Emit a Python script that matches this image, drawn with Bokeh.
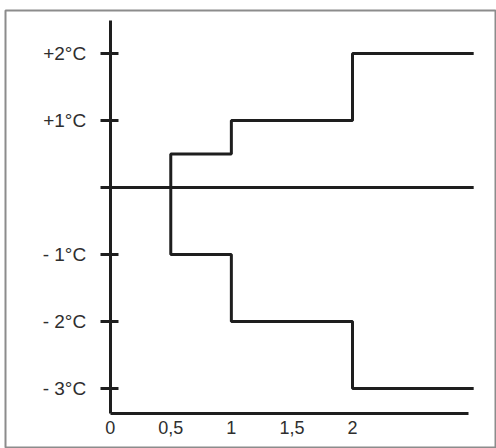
from bokeh.plotting import figure
from bokeh.models import FixedTicker, Range1d
from bokeh.embed import file_html
from bokeh.resources import INLINE

# Data
x_ticks = [0, 0.5, 1, 1.5, 2]
x_tick_labels = ["0", "0,5", "1", "1,5", "2"]
y_ticks = [-3, -2, -1, 0, 1, 2]
y_tick_labels = ["- 3°C", "- 2°C", "- 1°C", "", "+1°C", "+2°C"]

step_x = [0.5, 0.5, 1, 2, 3]
upper_y = [0, 0.5, 1, 2, 2]
lower_y = [0, -1, -2, -3, -3]

baseline_x = [0, 3]
baseline_y = [0, 0]

# view / axis extents (layout)
X_VIEW = (-0.864, 3.18)
Y_VIEW = (-3.896, 2.642)
X_AXIS_BOUNDS = (0, 2.96)
Y_AXIS_BOUNDS = (-3.373, 2.49)

INK = "#1e1e1e"
TEXT = "#2e2e2e"
FONT = "Liberation Sans"

p = figure(width=496, height=448, output_backend="svg", toolbar_location=None,
           x_range=Range1d(*X_VIEW), y_range=Range1d(*Y_VIEW),
           min_border_left=5, min_border_right=1, min_border_top=10, min_border_bottom=0)
p.outline_line_color = "#8c8c8c"
p.outline_line_width = 2
p.grid.visible = False
p.background_fill_color = "white"
p.border_fill_color = "white"

p.line(baseline_x, baseline_y, line_color=INK, line_width=3)
p.step(step_x, upper_y, mode="after", line_color=INK, line_width=3)
p.step(step_x, lower_y, mode="after", line_color=INK, line_width=3)

xa = p.xaxis[0]
xa.fixed_location = Y_AXIS_BOUNDS[0]
xa.bounds = X_AXIS_BOUNDS
xa.ticker = FixedTicker(ticks=x_ticks)
xa.major_label_overrides = {t: l for t, l in zip(x_ticks, x_tick_labels)}
xa.major_tick_out = 0
xa.major_tick_in = 0
xa.minor_tick_out = 0
xa.minor_tick_in = 0
xa.axis_line_width = 3
xa.axis_line_color = INK
xa.major_label_text_font = FONT
xa.major_label_text_font_size = "18px"
xa.major_label_text_color = TEXT
xa.major_label_standoff = 8

ya = p.yaxis[0]
ya.fixed_location = X_AXIS_BOUNDS[0]
ya.bounds = Y_AXIS_BOUNDS
ya.ticker = FixedTicker(ticks=y_ticks)
ya.major_label_overrides = {t: l for t, l in zip(y_ticks, y_tick_labels)}
ya.major_tick_out = 10
ya.major_tick_in = 8
ya.minor_tick_out = 0
ya.minor_tick_in = 0
ya.major_tick_line_width = 3
ya.major_tick_line_color = INK
ya.axis_line_width = 3
ya.axis_line_color = INK
ya.major_label_text_font = FONT
ya.major_label_text_font_size = "19px"
ya.major_label_text_color = TEXT
ya.major_label_standoff = 14

open("out.html", "w").write(file_html(p, INLINE))
